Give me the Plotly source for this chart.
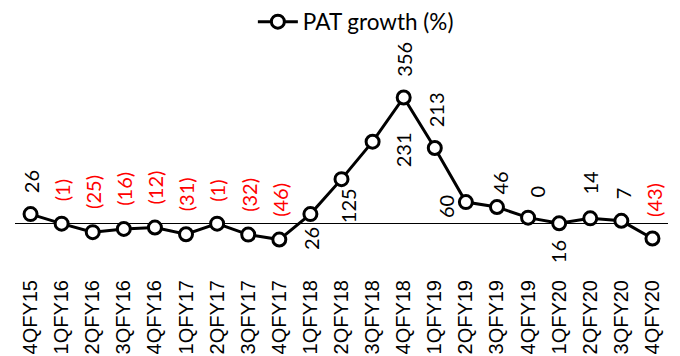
import plotly.graph_objects as go

# ---- data ----
quarters = ["4QFY15", "1QFY16", "2QFY16", "3QFY16", "4QFY16", "1QFY17", "2QFY17",
            "3QFY17", "4QFY17", "1QFY18", "2QFY18", "3QFY18", "4QFY18", "1QFY19",
            "2QFY19", "3QFY19", "4QFY19", "1QFY20", "2QFY20", "3QFY20", "4QFY20"]
pat_growth = [26, -1, -25, -16, -12, -31, -1, -32, -46, 26, 125, 231, 356, 213,
              60, 46, 16, 0, 14, 7, -43]
series_name = "PAT growth (%)"

# ---- label placement (style only) ----
label_pos = ["above"] * 9 + ["below", "below", "middle", "above", "above",
                             "middle", "above", "below", "above", "above", "above", "above"]
label_dx = [0] * 9 + [0, 6, 30, 0, 1, -20, 3, 30, -22, 0, 1, 1]
label_gap = [21, 22, 23, 23, 23, 23, 22, 23, 23,
             -13, -9, -8, 21, 21, -4, 13, -23, 26, 24, 22, 22]

LABEL_FONT = "Lato"
AXIS_FONT = "Liberation Sans"


def fmt(v):
    return f"({abs(v)})" if v < 0 else f"{v}"


fig = go.Figure()
fig.add_trace(go.Scatter(
    x=quarters, y=pat_growth, mode="lines+markers", name=series_name,
    line=dict(color="black", width=3),
    marker=dict(size=13, color="white", line=dict(color="black", width=3)),
))

annotations = []
for q, v, pos, dx, dy in zip(quarters, pat_growth, label_pos, label_dx, label_gap):
    yanchor = {"above": "bottom", "below": "top", "middle": "middle"}[pos]
    annotations.append(dict(
        x=q, y=v, xref="x", yref="y", text=fmt(v), showarrow=False,
        textangle=-90, xanchor="center", yanchor=yanchor,
        xshift=dx, yshift=dy, borderpad=0, borderwidth=0,
        font=dict(family=LABEL_FONT, size=20, color="red" if v < 0 else "black"),
    ))

fig.update_layout(
    width=680, height=356,
    margin=dict(l=15, r=12, t=60, b=84, autoexpand=False),
    paper_bgcolor="white", plot_bgcolor="white",
    showlegend=True,
    legend=dict(orientation="h", xref="paper", yref="container",
                x=0.522, xanchor="center", y=1 - 22 / 356, yanchor="middle",
                itemwidth=40,
                font=dict(family=LABEL_FONT, size=22.5, color="black"),
                bgcolor="rgba(0,0,0,0)"),
    xaxis=dict(type="category", range=[-0.5, len(quarters) - 0.5], automargin=False,
               showgrid=False, showline=False, ticks="", tickangle=-90,
               ticklabelstandoff=3,
               tickfont=dict(family=AXIS_FONT, size=20, color="black")),
    yaxis=dict(range=[-137.8, 462.1], showgrid=False, showticklabels=False,
               automargin=False,
               zeroline=True, zerolinecolor="black", zerolinewidth=1, ticks=""),
    annotations=annotations,
)

fig.write_html("out.html", config={"displayModeBar": False},
               post_script="document.body.style.margin='0';document.body.style.padding='0';")
